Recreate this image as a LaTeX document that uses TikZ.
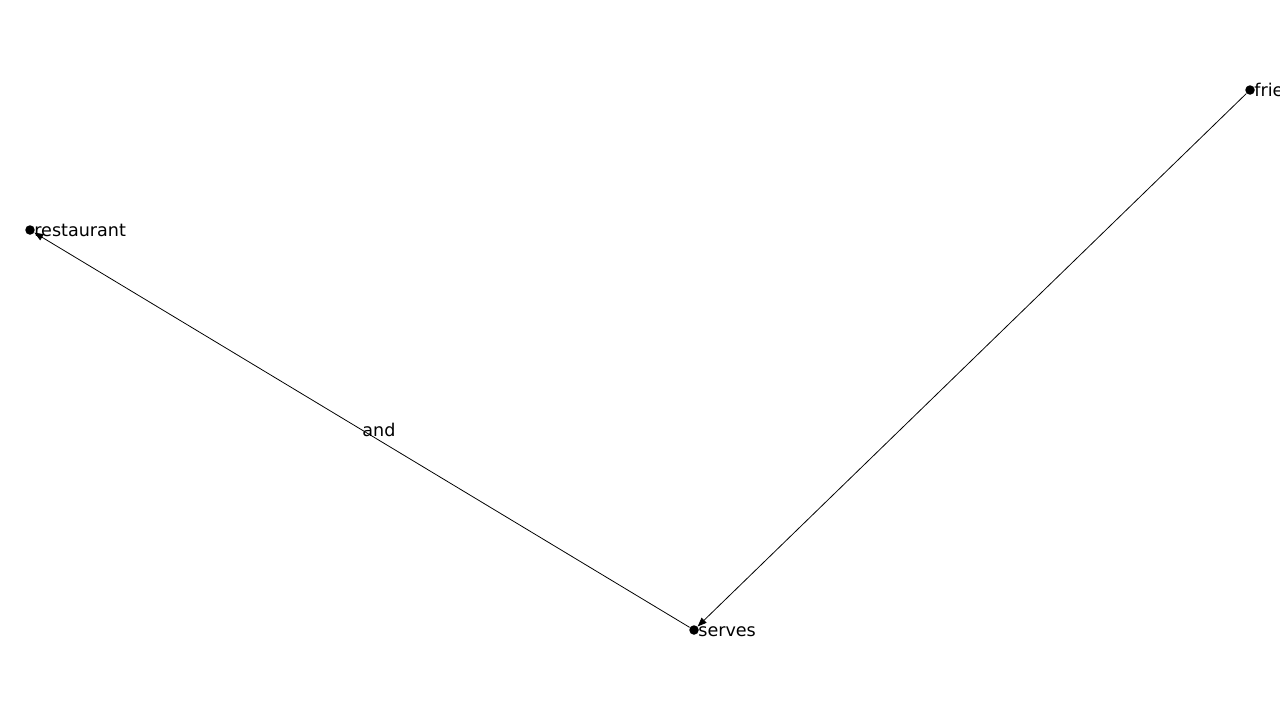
\documentclass[tikz,border=0pt]{standalone}
\usepackage{fontspec}
\setmainfont{DejaVu Sans}
\usetikzlibrary{arrows.meta, positioning}

\begin{document}
\begin{tikzpicture}[x=0.02cm, y=-0.02cm,
    dot/.style={circle, fill=black, inner sep=0pt, minimum size=0.19cm},
    word/.style={anchor=west, inner sep=0pt, font=\fontsize{10}{12}\selectfont},
    edge/.style={-{Triangle[length=0.18cm, width=0.14cm]}, line width=0.45pt}]
    \useasboundingbox[clip] (0,0) rectangle (1280,720);

    \node[dot] (r) at (30,230) {};
    \node[dot] (s) at (694,630) {};
    \node[dot] (f) at (1250,90) {};

    \node[word, right=0.08cm of r.center] {restaurant};
    \node[word, right=0.08cm of s.center, yshift=-0.03cm] {serves};
    \node[word, right=0.08cm of f.center] {fries};

    \draw[edge] (s) -- (r) node[pos=0.5, word] {and};
    \draw[edge] (f) -- (s);
  \end{tikzpicture}
\end{document}
